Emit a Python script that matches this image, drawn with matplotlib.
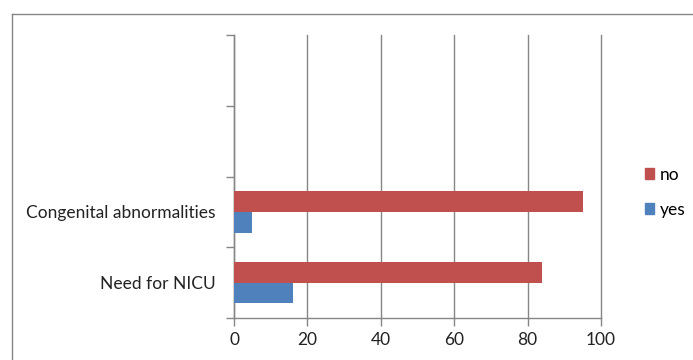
import matplotlib
matplotlib.use("Agg")
import matplotlib.pyplot as plt
from matplotlib.lines import Line2D
import numpy as np

categories = ["Need for NICU", "Congenital abnormalities"]
yes_vals = [16, 5]
no_vals = [84, 95]
series_names = ["no", "yes"]
x_ticks = [0, 20, 40, 60, 80, 100]

plt.rcParams['font.family'] = ['Lato', 'DejaVu Sans']

fig = plt.figure(figsize=(6.93, 3.6), dpi=100)
ax = fig.add_axes([234/693, 42/360, 367/693, 283/360])

red = "#C0504D"
blue = "#4F81BD"
h = 0.295
y = np.arange(len(categories))
ax.barh(y - h/2, yes_vals, height=h, color=blue, label="yes", zorder=3)
ax.barh(y + h/2, no_vals, height=h, color=red, label="no", zorder=3)

n_slots = 4
ax.set_ylim(-0.5, n_slots - 0.5)
ax.set_xlim(0, 100)
ax.set_xticks(x_ticks)
ax.set_xticklabels([str(t) for t in x_ticks], fontsize=12.5, color="#222222")
ax.set_yticks(np.arange(n_slots + 1) - 0.5)
ax.set_yticklabels([])
ax.set_yticks(y, minor=True)
ax.set_yticklabels(categories, minor=True, fontsize=12.5, color="#222222")
ax.tick_params(axis='y', which='minor', length=0, pad=13)
ax.tick_params(axis='y', which='major', length=6, color="#868686", width=1)
ax.tick_params(axis='x', length=6, color="#868686", width=1, pad=4)

ax.grid(axis='x', color="#868686", linewidth=1, zorder=0)
for gl in ax.xaxis.get_gridlines():
    gl.set_clip_on(False)
for s in ["top", "right"]:
    ax.spines[s].set_visible(False)
for s in ["left", "bottom"]:
    ax.spines[s].set_color("#868686")
    ax.spines[s].set_linewidth(1)

handles = [plt.Rectangle((0, 0), 1, 1, color=red), plt.Rectangle((0, 0), 1, 1, color=blue)]
fig.legend(handles, series_names, loc="upper left", bbox_to_anchor=(629/693, 1 - 151/360),
           frameon=False, fontsize=12.5, handlelength=0.55, handleheight=0.55,
           labelspacing=1.1, handletextpad=0.3)

# chart frame
fig.add_artist(Line2D([11.5/693, 11.5/693], [0, 1 - 13.5/360], transform=fig.transFigure,
                      color="#868686", linewidth=1))
fig.add_artist(Line2D([11.5/693, 1], [1 - 13.5/360, 1 - 13.5/360], transform=fig.transFigure,
                      color="#868686", linewidth=1))

fig.savefig("out.png", dpi=100)
